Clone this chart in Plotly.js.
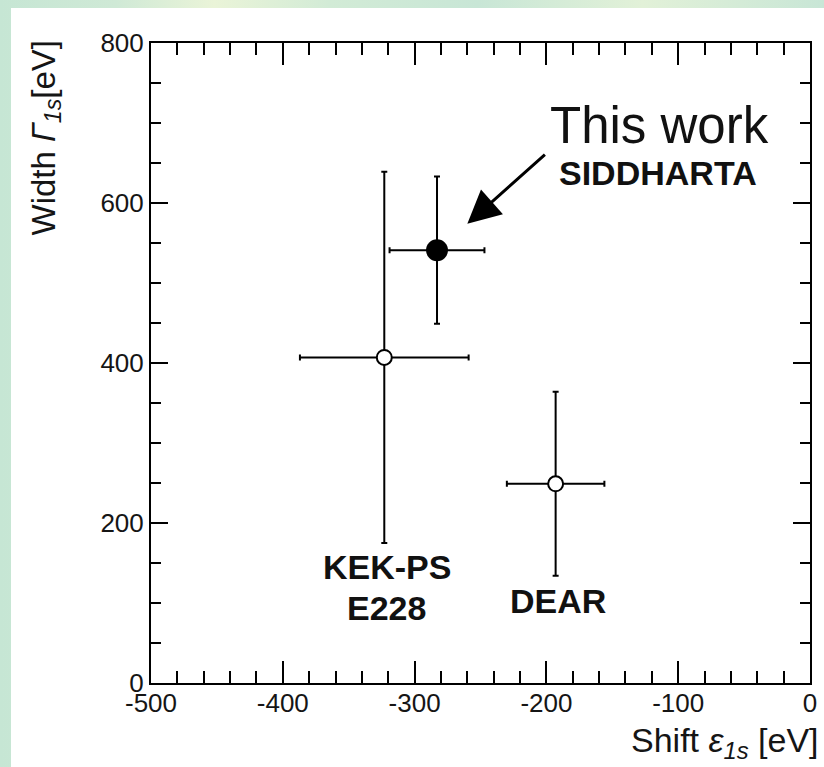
<!DOCTYPE html>
<html><head><meta charset="utf-8">
<script src="https://cdn.plot.ly/plotly-3.0.1.min.js"></script>
<style>
html,body{margin:0;padding:0;width:824px;height:767px;overflow:hidden;
background:linear-gradient(90deg,#c6e6d4 0%,#cfe9d6 14%,#eaf4d8 26%,#d2ebd6 40%,#c8e6d6 58%,#e2f1d8 78%,#c8e6d6 100%);}
#plot{position:absolute;left:11px;top:8px;width:813px;height:759px;background:#fff;}
</style></head><body><div id="plot"></div>
<script>
const experiments = ["SIDDHARTA", "KEK-PS E228", "DEAR"];
const shift = [-283, -323, -193];
const shiftErr = [36, 64, 37];
const widths = [541, 407, 249];
const widthErr = [92, 232, 115];
const xTickVals = [-500, -400, -300, -200, -100, 0];
const xTickLabels = ["-500", "-400", "-300", "-200", "-100", "0"];
const yTickVals = [0, 200, 400, 600, 800];
const yTickLabels = ["0", "200", "400", "600", "800"];

const FONT = "Liberation Sans, Arial, Helvetica, sans-serif";

function trace(i, filled) {
  return {
    type: "scatter", mode: "markers", name: experiments[i],
    x: [shift[i]], y: [widths[i]],
    error_x: {type: "data", array: [shiftErr[i]], visible: true, color: "#000", thickness: 2, width: 3},
    error_y: {type: "data", array: [widthErr[i]], visible: true, color: "#000", thickness: 2, width: 3},
    marker: filled ? {symbol: "circle", size: 22, color: "#000", line: {color: "#000", width: 0}}
                   : {symbol: "circle", size: 15, color: "#fff", line: {color: "#000", width: 2}},
    hoverinfo: "skip"
  };
}
const data = [trace(1, false), trace(2, false), trace(0, true)];

const axisCommon = {
  showline: true, linewidth: 2, linecolor: "#000", mirror: "ticks",
  ticks: "inside", tickwidth: 2, tickcolor: "#000",
  showgrid: false, zeroline: false, fixedrange: true,
  tickfont: {family: FONT, size: 26, color: "#151515"}
};

const layout = {
  width: 813, height: 759,
  margin: {l: 140, r: 14, t: 35, b: 84},
  paper_bgcolor: "#fff", plot_bgcolor: "#fff",
  showlegend: false,
  xaxis: Object.assign({}, axisCommon, {
    range: [-500, 0], tickvals: xTickVals, ticktext: xTickLabels, ticklen: 22, ticklabelstandoff: -4,
    minor: {dtick: 20, tick0: 0, ticks: "inside", ticklen: 12, tickwidth: 2, tickcolor: "#000"}
  }),
  yaxis: Object.assign({}, axisCommon, {
    range: [0, 800], tickvals: yTickVals, ticktext: yTickLabels, ticklen: 17,
    minor: {dtick: 50, tick0: 0, ticks: "inside", ticklen: 10, tickwidth: 2, tickcolor: "#000"}
  }),
  annotations: [
    {xref: "paper", yref: "paper", x: 1, y: 0, xanchor: "right", yanchor: "top", xshift: 11, yshift: -36,
     text: "Shift <i>ε</i><sub><i>1s</i></sub> [eV]", showarrow: false,
     font: {family: FONT, size: 34, color: "#151515"}},
    {xref: "paper", yref: "paper", x: 0, y: 1, xanchor: "center", yanchor: "top", xshift: -106, yshift: 4,
     textangle: -90, text: "Width <i>Γ</i><sub><i>1s</i></sub>[eV]", showarrow: false,
     font: {family: FONT, size: 33, color: "#151515"}},
    {xref: "x", yref: "y", x: -114, y: 697, text: "This work", showarrow: false,
     font: {family: FONT, size: 51, color: "#111"}},
    {xref: "x", yref: "y", x: -115, y: 637, text: "<b>" + experiments[0] + "</b>", showarrow: false,
     font: {family: FONT, size: 34, color: "#111"}},
    {xref: "x", yref: "y", x: -321, y: 145, text: "<b>KEK-PS</b>", showarrow: false,
     font: {family: FONT, size: 34, color: "#111"}},
    {xref: "x", yref: "y", x: -321, y: 94, text: "<b>E228</b>", showarrow: false,
     font: {family: FONT, size: 34, color: "#111"}},
    {xref: "x", yref: "y", x: -191, y: 102, text: "<b>" + experiments[2] + "</b>", showarrow: false,
     font: {family: FONT, size: 34, color: "#111"}},
    {xref: "x", yref: "y", x: -260, y: 574, axref: "x", ayref: "y", ax: -200, ay: 662,
     text: "", showarrow: true, arrowhead: 2, arrowsize: 2.2, arrowwidth: 3, arrowcolor: "#000", standoff: 0}
  ]
};

Plotly.newPlot("plot", data, layout, {displayModeBar: false, staticPlot: true});
</script></body></html>
